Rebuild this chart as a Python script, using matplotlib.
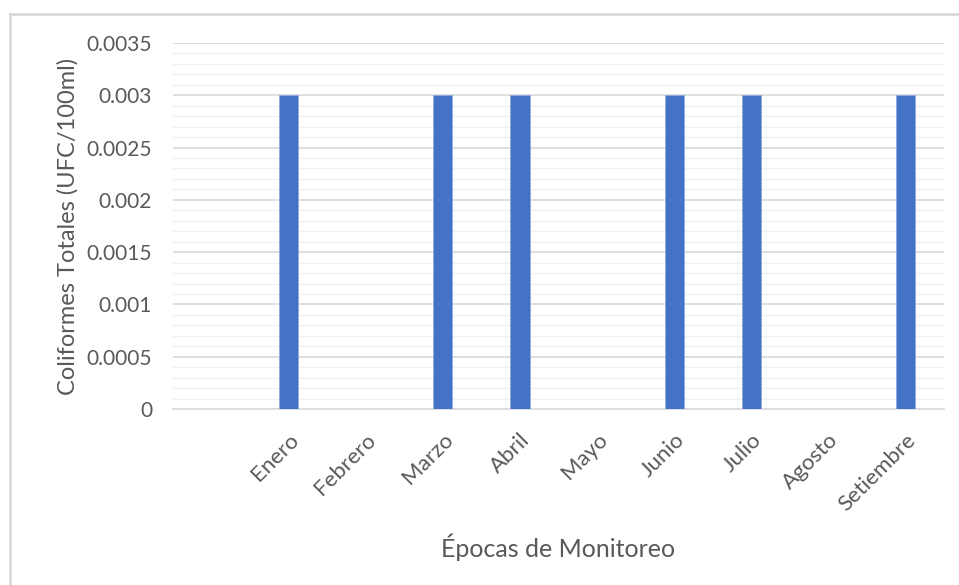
import matplotlib.pyplot as plt
from matplotlib.lines import Line2D
from matplotlib.ticker import MultipleLocator

# first category is blank in the original workbook
months = ["", "Enero", "Febrero", "Marzo", "Abril", "Mayo", "Junio", "Julio", "Agosto", "Setiembre"]
coliformes = [0, 0.003, 0, 0.003, 0.003, 0, 0.003, 0.003, 0, 0.003]
yticks = [0, 0.0005, 0.001, 0.0015, 0.002, 0.0025, 0.003, 0.0035]
ytick_labels = ["0", "0.0005", "0.001", "0.0015", "0.002", "0.0025", "0.003", "0.0035"]

plt.rcParams['font.family'] = ['Lato', 'DejaVu Sans']
grey = "#595959"

fig = plt.figure(figsize=(9.59, 5.85), dpi=100)
ax = fig.add_axes([173/959, 1 - 409/585, (944 - 173)/959, (409 - 43)/585])

x = list(range(len(months)))
ax.bar(x, coliformes, width=0.25, color="#4472C4", edgecolor="#8faadc", linewidth=0.6, zorder=3)

ax.set_xlim(-0.5, len(months) - 0.5)
ax.set_ylim(0, 0.0035)
ax.set_yticks(yticks)
ax.set_yticklabels(ytick_labels)
ax.yaxis.set_minor_locator(MultipleLocator(0.0001))
ax.grid(axis="y", which="major", color="#d9d9d9", linewidth=1.2, zorder=0)
ax.grid(axis="y", which="minor", color="#f0f0f0", linewidth=1.0, zorder=0)

ax.set_xticks(x)
ax.set_xticklabels(months, rotation=45, ha="right", rotation_mode="anchor")
for s in ["top", "right", "left"]:
    ax.spines[s].set_visible(False)
ax.spines["bottom"].set_color("#d9d9d9")
ax.spines["bottom"].set_linewidth(1.2)
ax.tick_params(axis="both", which="both", length=0, colors=grey, labelsize=15)
ax.tick_params(axis="x", pad=15, labelsize=16)
ax.tick_params(axis="y", pad=15)

ax.set_ylabel("Coliformes Totales (UFC/100ml)", fontsize=17, color=grey, labelpad=6)
ax.set_xlabel("Épocas de Monitoreo", fontsize=18, color=grey, labelpad=14)

# chart border like the Excel frame
fig.add_artist(Line2D([10/959, 10/959], [0, 1 - 14/585], color="#d9d9d9", linewidth=2))
fig.add_artist(Line2D([10/959, 1], [1 - 14/585, 1 - 14/585], color="#d9d9d9", linewidth=2))

fig.savefig("out.png", dpi=100)
